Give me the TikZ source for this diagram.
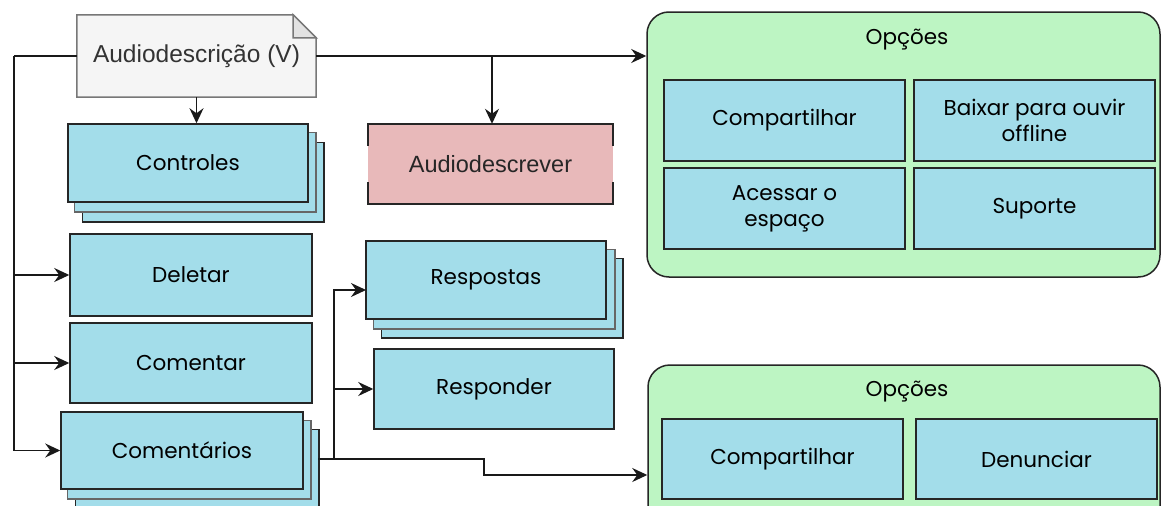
\documentclass[tikz,border=0pt]{standalone}
\usepackage{fontspec}
\setmainfont{Poppins}
\newfontfamily\helv{Liberation Sans}
\usetikzlibrary{arrows.meta,calc}
\definecolor{cardblue}{HTML}{A3DDEA}
\definecolor{rosefill}{HTML}{E8B9BA}
\definecolor{mintfill}{HTML}{BDF5C3}
\definecolor{paper}{HTML}{F5F5F5}
\definecolor{paperfold}{HTML}{E2E2E2}
\definecolor{paperedge}{HTML}{777777}
\tikzset{
  card/.style={draw=black!85, line width=1.5pt, fill=cardblue,
    minimum width=240pt, minimum height=80pt, inner sep=2pt, align=center,
    font=\fontsize{21.5}{26}\selectfont},
  layer/.style={draw=black!85, line width=1.5pt, fill=cardblue},
  midlayer/.style={draw=black!60, line width=1.5pt, fill=cardblue},
  group/.style={draw=black!85, line width=1.5pt, fill=mintfill, rounded corners=22pt},
  grouptitle/.style={font=\fontsize{21.5}{26}\selectfont},
  wire/.style={line width=1.6pt, draw=black!90},
  arr/.style={wire, -{Stealth[length=15pt,width=14pt,inset=5pt]}},
}
\begin{document}
\begin{tikzpicture}[x=1pt, y=-1pt]
\useasboundingbox (0,0) rectangle (1163,506);
\clip (0,0) rectangle (1163,506);
\fill[white] (0,0) rectangle (1163,506);

% option groups
\node[group, minimum width=513pt, minimum height=265pt] (opt1) at (903.5,144.5) {};
\node[grouptitle] (opt1t) at (907,40) {Opções};
\node[card, minimum width=241pt, minimum height=81pt] (share1) at (784.5,120.5) {Compartilhar};
\node[card, minimum width=241pt, minimum height=81pt] (offline) at (1034.5,120.5) {Baixar para ouvir\\offline};
\node[card, minimum width=241pt, minimum height=81pt] (space) at (784.5,208.5) {Acessar o\\espaço};
\node[card, minimum width=241pt, minimum height=81pt] (support) at (1034.5,208.5) {Suporte};

\node[group, minimum width=512pt, minimum height=200pt] (opt2) at (904,465) {};
\node[grouptitle] (opt2t) at (907,392) {Opções};
\node[card, minimum width=241pt, minimum height=80pt] (share2) at (782.5,459) {Compartilhar};
\node[card, minimum width=241pt, minimum height=80pt] (report) at (1036.5,459) {Denunciar};

% document shape with folded corner
\node[minimum width=239pt, minimum height=82pt] (audio) at (196.5,56) {};
\draw[line width=1.5pt, draw=paperedge, fill=paper]
  (audio.north west) -- ([xshift=-23pt]audio.north east) -- ([yshift=-23pt]audio.north east)
  -- (audio.south east) -- (audio.south west) -- cycle;
\draw[line width=1.5pt, draw=paperedge, fill=paperfold]
  ([xshift=-23pt]audio.north east) -- ([xshift=-23pt,yshift=-23pt]audio.north east)
  -- ([yshift=-23pt]audio.north east) -- cycle;
\node[font=\helv\fontsize{24.5}{28}\selectfont, text=black!80] (audiotext) at (audio.center) {Audiodescrição (V)};

% Controles stack
\node[card, minimum height=78pt] (ctrl) at (188,163) {};
\draw[layer] ([xshift=15pt,yshift=-19pt]ctrl.north west) rectangle ([xshift=15pt,yshift=-19pt]ctrl.south east);
\draw[midlayer] ([xshift=7pt,yshift=-9pt]ctrl.north west) rectangle ([xshift=7pt,yshift=-9pt]ctrl.south east);
\node[card, minimum height=78pt] at (ctrl.center) {Controles};

% single cards on the left
\node[card, minimum width=242pt, minimum height=82pt] (del) at (191,275) {Deletar};
\node[card, minimum width=242pt, minimum height=80pt] (com) at (191,363) {Comentar};

% Comentários stack
\node[card, minimum width=242pt, minimum height=77pt] (coms) at (182,450.5) {};
\draw[layer] ([xshift=15pt,yshift=-18pt]coms.north west) rectangle ([xshift=15pt,yshift=-18pt]coms.south east);
\draw[midlayer] ([xshift=7pt,yshift=-9pt]coms.north west) rectangle ([xshift=7pt,yshift=-9pt]coms.south east);
\node[card, minimum width=242pt, minimum height=77pt] at (coms.center) {Comentários};

% Audiodescrever card with open sides
\node[minimum width=245pt, minimum height=80pt, fill=rosefill, font=\helv\fontsize{23.5}{27}\selectfont, text=black!85] (adesc) at (490.5,164) {Audiodescrever};
\draw[line width=1.5pt, draw=black!85]
  ([yshift=-22pt]adesc.north west) -- (adesc.north west) -- (adesc.north east) -- ([yshift=-22pt]adesc.north east);
\draw[line width=1.5pt, draw=black!85]
  ([yshift=22pt]adesc.south west) -- (adesc.south west) -- (adesc.south east) -- ([yshift=22pt]adesc.south east);

% Respostas stack
\node[card, minimum height=78pt] (resp) at (486,280) {};
\draw[layer] ([xshift=16pt,yshift=-18pt]resp.north west) rectangle ([xshift=16pt,yshift=-18pt]resp.south east);
\draw[midlayer] ([xshift=8pt,yshift=-9pt]resp.north west) rectangle ([xshift=8pt,yshift=-9pt]resp.south east);
\node[card, minimum height=78pt] at (resp.center) {Respostas};

\node[card, minimum width=240pt, minimum height=80pt] (reply) at (494,389) {Responder};

% connectors
\coordinate (lbus) at (14,56);
\coordinate (tap) at (492,56);
\coordinate (rbus) at (334,459);
\coordinate (comsout) at (318,459);
\coordinate (respin) at (366,290);
\coordinate (jog) at (484,475);

\draw[wire] (audio.west) -- (lbus);
\draw[arr] (lbus) |- (del.west);
\draw[arr] (lbus) |- (com.west);
\draw[arr] (lbus) |- (coms.west);
\draw[arr] (audio.south) -- (audio.south |- ctrl.north);
\draw[arr] (audio.east) -- (audio.east -| opt1.west);
\draw[arr] (tap) -- (tap |- adesc.north);

\draw[wire] (comsout) -- (rbus);
\draw[arr] (rbus) |- (respin);
\draw[arr] (rbus) |- (reply.west);
\draw[arr] (rbus) -- (rbus -| jog) -- (jog) -- (jog -| opt2.west);
\end{tikzpicture}
\end{document}
